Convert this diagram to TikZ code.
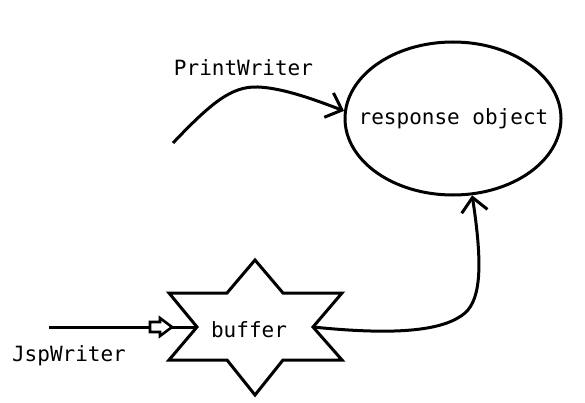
\documentclass[tikz,border=0pt]{standalone}
\usepackage{fontspec}
\newfontfamily\monofnt{DejaVu Sans Mono}
\usetikzlibrary{arrows.meta,shapes.geometric}
\begin{document}
\begin{tikzpicture}[x=1pt,y=-1pt,line width=3pt,
  lbl/.style={font=\monofnt\fontsize{21}{25}\selectfont, inner sep=0pt, anchor=base},
  conn/.style={line width=3pt, -{Straight Barb[length=14pt,width=26pt,line width=3pt]}},
  shapeline/.style={line width=3pt, line join=miter}]
\useasboundingbox (0,0) rectangle (585,403);
\fill[white] (0,0) rectangle (585,403);
% response object
\node[ellipse, draw, shapeline, minimum width=216pt, minimum height=153pt, inner sep=0pt] (resp) at (453,118.5) {};
\node[lbl] (resptxt) at (453.5,125) {response object};
% labels
\node[lbl] (pwtxt) at (243.5,76) {PrintWriter};
\node[lbl] (jwtxt) at (69,361) {JspWriter};
% buffer star
\coordinate (sT) at (255,260);
\coordinate (sR) at (313,327);
\coordinate (sL) at (197,327);
\draw[shapeline] (sT) -- (283,293) -- (342,293) -- (sR) -- (342,360) -- (283,360)
  -- (255,395) -- (227,360) -- (169,360) -- (sL) -- (169,293) -- (227,293) -- cycle;
\node[lbl] (buftxt) at (249,337) {buffer};
% free ends
\coordinate (pw0) at (173,143);
\coordinate (jw0) at (49,327);
% connectors
\draw[conn] (pw0) .. controls (212,102) and (232,86) .. (258,87)
  .. controls (284,88) and (318,101) .. (resp.176);
\draw[shapeline] (jw0) -- (sL);
\draw[shapeline, line width=2.6pt, fill=white] (150,322) -- (160,322) -- (160,318) -- (172,327)
  -- (160,336) -- (160,332) -- (150,332) -- cycle;
\draw[conn] (sR) .. controls (400,336) and (445,330) .. (465,313)
  .. controls (482,298) and (482,260) .. (resp.-76);
\end{tikzpicture}
\end{document}
